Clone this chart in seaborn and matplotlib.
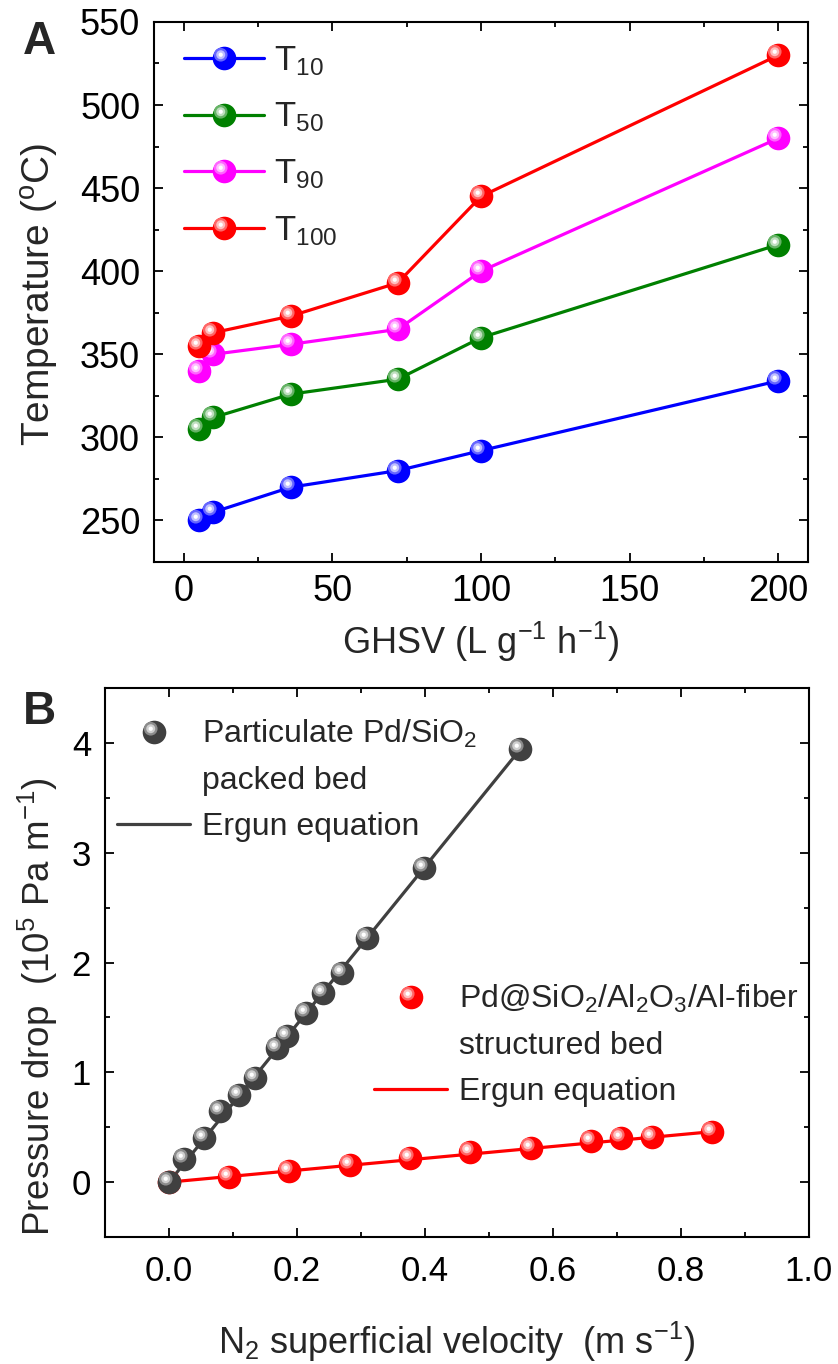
import numpy as np
import matplotlib
matplotlib.use('Agg')
import matplotlib.pyplot as plt
import matplotlib.colors as mcolors
from matplotlib.path import Path
from matplotlib.lines import Line2D
from matplotlib.legend_handler import HandlerTuple
from matplotlib.ticker import MultipleLocator
import seaborn as sns

# panel A: light-off temperatures vs GHSV
ghsv = [5, 10, 36, 72, 100, 200]
t10 = [250, 255, 270, 280, 292, 334]
t50 = [305, 312, 326, 335, 360, 416]
t90 = [340, 350, 356, 365, 400, 480]
t100 = [355, 363, 373, 393, 445, 530]
t_labels = ['10', '50', '90', '100']
t_colors = ['#0000ff', '#008000', '#ff00ff', '#ff0000']

# panel B: pressure drop vs superficial velocity
packed_v = [0, 0.024, 0.054, 0.080, 0.110, 0.134, 0.168, 0.184, 0.214, 0.240, 0.270, 0.309, 0.399, 0.549]
packed_dp = [0, 0.21, 0.40, 0.65, 0.79, 0.95, 1.22, 1.33, 1.54, 1.72, 1.90, 2.22, 2.86, 3.94]
fiber_v = [0, 0.094, 0.188, 0.283, 0.377, 0.471, 0.566, 0.660, 0.707, 0.755, 0.849]
fiber_dp = [0, 0.05, 0.10, 0.16, 0.22, 0.27, 0.31, 0.37, 0.40, 0.41, 0.46]
ergun_packed_v = [0, 0.55]
ergun_packed_dp = [0, 3.95]
ergun_fiber_v = [0, 0.85]
ergun_fiber_dp = [0, 0.46]

sns.set_style('ticks')
plt.rcParams['font.family'] = ['Liberation Sans', 'DejaVu Sans']
plt.rcParams['mathtext.fontset'] = 'custom'
plt.rcParams['mathtext.rm'] = 'Liberation Sans'
plt.rcParams['mathtext.it'] = 'Liberation Sans:italic'
plt.rcParams['mathtext.bf'] = 'Liberation Sans:bold'

MS = 17
GLINTS = [(0.58, 0.4), (0.38, 0.75), (0.18, 1.0)]


def glint(r):
    # small offset circle; the two corner points keep the marker box the same as 'o'
    frame = Path([(-1, -1), (1, 1)], [Path.MOVETO, Path.MOVETO])
    return Path.make_compound_path(frame, Path.circle((-0.32, 0.32), r))


def shade(color, amount):
    rgb = np.array(mcolors.to_rgb(color))
    return tuple(rgb + (1 - rgb) * amount)


def balls(ax, x, y, color, z):
    for r, amount in GLINTS:
        ax.plot(x, y, linestyle='none', marker=glint(r), markersize=MS,
                markeredgewidth=0, color=shade(color, amount), zorder=z)


def ball_handle(color, lw=0):
    main = Line2D([], [], color=color, lw=lw, marker='o', markersize=MS, markeredgewidth=0)
    shine = [Line2D([], [], linestyle='none', marker=glint(r), markersize=MS,
                    markeredgewidth=0, color=shade(color, a)) for r, a in GLINTS]
    return tuple([main] + shine)


def style_axes(ax, fs):
    for s in ax.spines.values():
        s.set_linewidth(1.5)
        s.set_color('black')
    ax.tick_params(which='both', direction='in', top=True, right=True, width=1.3, colors='black')
    ax.tick_params(which='major', length=6.5, labelsize=fs)
    ax.tick_params(which='minor', length=3.5)


fig = plt.figure(figsize=(8.38, 13.64), dpi=100)

# ---- panel A
ax1 = fig.add_axes([0.1838, 0.588, 0.7804, 0.3959])
for ys, col in zip([t10, t50, t90, t100], t_colors):
    sns.lineplot(x=ghsv, y=ys, color=col, linewidth=2.3, marker='o', markersize=MS,
                 markeredgewidth=0, ax=ax1, zorder=3)
    balls(ax1, ghsv, ys, col, 3)
ax1.set_xlim(-10, 210)
ax1.set_ylim(225, 550)
ax1.xaxis.set_major_locator(MultipleLocator(50))
ax1.xaxis.set_minor_locator(MultipleLocator(25))
ax1.yaxis.set_major_locator(MultipleLocator(50))
ax1.yaxis.set_minor_locator(MultipleLocator(25))
style_axes(ax1, 26)
ax1.tick_params(axis='y', pad=10)
ax1.tick_params(axis='x', pad=9)
ax1.set_xlabel('GHSV (L g$^{\\mathregular{-1}}$ h$^{\\mathregular{-1}}$)', fontsize=26)
ax1.set_ylabel('Temperature ($^{\\mathregular{o}}$C)', fontsize=28)
ax1.xaxis.set_label_coords(0.5, -0.108)
ax1.yaxis.set_label_coords(-0.142, 0.496)
ax1.legend([ball_handle(c, 2.3) for c in t_colors],
           ['T$_{\\mathregular{%s}}$' % t for t in t_labels],
           handler_map={tuple: HandlerTuple(ndivide=1, pad=0)},
           loc='upper left', bbox_to_anchor=(0.046, 0.959), borderpad=0, borderaxespad=0,
           frameon=False, fontsize=25, handlelength=2.3, handletextpad=0.3, labelspacing=0.66)
fig.text(0.047, 0.969, 'A', fontsize=33, fontweight='bold', ha='center', va='center')

# ---- panel B
ax2 = fig.add_axes([0.1253, 0.0931, 0.840, 0.4025])
sns.lineplot(x=ergun_packed_v, y=ergun_packed_dp, color='#404040', linewidth=2.3, ax=ax2, zorder=2)
sns.lineplot(x=ergun_fiber_v, y=ergun_fiber_dp, color='#ff0000', linewidth=2.3, ax=ax2, zorder=2)
sns.scatterplot(x=fiber_v, y=fiber_dp, color='#ff0000', s=MS ** 2, linewidth=0, ax=ax2, zorder=3)
balls(ax2, fiber_v, fiber_dp, '#ff0000', 3)
sns.scatterplot(x=packed_v, y=packed_dp, color='#404040', s=MS ** 2, linewidth=0, ax=ax2, zorder=4)
balls(ax2, packed_v, packed_dp, '#404040', 4)
ax2.set_xlim(-0.1, 1.0)
ax2.set_ylim(-0.5, 4.5)
ax2.xaxis.set_major_locator(MultipleLocator(0.2))
ax2.xaxis.set_minor_locator(MultipleLocator(0.1))
ax2.yaxis.set_major_locator(MultipleLocator(1))
ax2.yaxis.set_minor_locator(MultipleLocator(0.5))
ax2.xaxis.set_major_formatter(matplotlib.ticker.FormatStrFormatter('%.1f'))
style_axes(ax2, 25)
ax2.tick_params(axis='y', pad=10)
ax2.tick_params(axis='x', pad=13)
ax2.set_xlabel('N$_{\\mathregular{2}}$ superficial velocity  (m s$^{\\mathregular{-1}}$)', fontsize=26)
ax2.set_ylabel('Pressure drop  (10$^{\\mathregular{5}}$ Pa m$^{\\mathregular{-1}}$)', fontsize=26.5)
ax2.xaxis.set_label_coords(0.5, -0.15)
ax2.yaxis.set_label_coords(-0.064, 0.42)

blank = Line2D([], [], linestyle='none')
leg1 = ax2.legend([ball_handle('#404040'), blank, Line2D([], [], color='#404040', lw=2.3)],
                  ['Particulate Pd/SiO$_{\\mathregular{2}}$', 'packed bed', 'Ergun equation'],
                  handler_map={tuple: HandlerTuple(ndivide=1, pad=0)},
                  loc='upper left', bbox_to_anchor=(0.017, 0.945), borderpad=0, borderaxespad=0,
                  frameon=False, fontsize=23, handlelength=2.3, handletextpad=0.35, labelspacing=0.5)
ax2.add_artist(leg1)
ax2.legend([ball_handle('#ff0000'), blank, Line2D([], [], color='#ff0000', lw=2.3)],
           ['Pd@SiO$_{\\mathregular{2}}$/Al$_{\\mathregular{2}}$O$_{\\mathregular{3}}$/Al-fiber',
            'structured bed', 'Ergun equation'],
           handler_map={tuple: HandlerTuple(ndivide=1, pad=0)},
           loc='upper left', bbox_to_anchor=(0.382, 0.462), borderpad=0, borderaxespad=0,
           frameon=False, fontsize=23, handlelength=2.3, handletextpad=0.35, labelspacing=0.5)
fig.text(0.047, 0.478, 'B', fontsize=33, fontweight='bold', ha='center', va='center')

fig.savefig('out.png', dpi=100)
